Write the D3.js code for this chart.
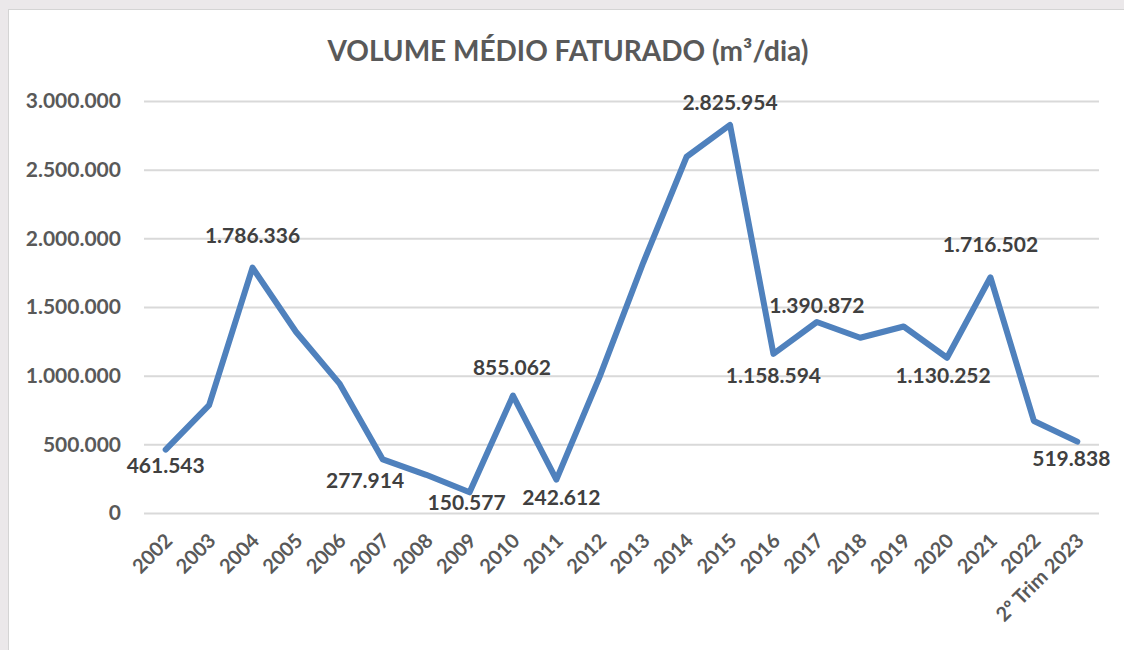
<!DOCTYPE html>
<html lang="pt">
<head>
<meta charset="UTF-8">
<title>Volume médio faturado</title>
<style>
  html, body { margin: 0; padding: 0; background: #ebe8ea; }
  svg { display: block; }
  text { font-family: Lato, "Noto Sans", sans-serif; font-weight: bold; }
</style>
</head>
<body>
<div id="chart"></div>
<script src="https://cdn.jsdelivr.net/npm/d3@7"></script>
<script>
// categories along the x axis
var anos = ["2002", "2003", "2004", "2005", "2006", "2007", "2008", "2009", "2010", "2011",
            "2012", "2013", "2014", "2015", "2016", "2017", "2018", "2019", "2020", "2021",
            "2022", "2º Trim 2023"];
// m³/dia (labelled ones are exact, the rest)
var volumes = [461543, 786000, 1786336, 1320000, 944000, 390000, 277914, 150577, 855062, 242612,
               995000, 1822000, 2594000, 2825954, 1158594, 1390872, 1276000, 1358000, 1130252, 1716502,
               670000, 519838];
var yTicks = [0, 500000, 1000000, 1500000, 2000000, 2500000, 3000000];
var titulo = "VOLUME MÉDIO FATURADO (m³/dia)";

// where excel put each shown data label (index, dx, dy to baseline, anchor)
var rotulos = [
  { i: 0,  dx: 0,   dy: 23,  a: "middle" },
  { i: 2,  dx: 0,   dy: -25, a: "middle" },
  { i: 6,  dx: -22, dy: 13,  a: "end" },
  { i: 7,  dx: -3,  dy: 18,  a: "middle" },
  { i: 8,  dx: -1,  dy: -21, a: "middle" },
  { i: 9,  dx: 5,   dy: 25,  a: "middle" },
  { i: 13, dx: 0,   dy: -15, a: "middle" },
  { i: 14, dx: 0,   dy: 29,  a: "middle" },
  { i: 15, dx: 0,   dy: -9,  a: "middle" },
  { i: 18, dx: -4,  dy: 25,  a: "middle" },
  { i: 19, dx: 0,   dy: -25, a: "middle" },
  { i: 21, dx: -6,  dy: 24,  a: "middle" }
];

var W = 1124, H = 650;
var plot = { left: 144, right: 1099, top: 101, bottom: 513 };

var fmt = function (v) {
  return String(v).replace(/\B(?=(\d{3})+(?!\d))/g, ".");
};

var svg = d3.select("#chart").append("svg")
  .attr("width", W)
  .attr("height", H);

// grey page behind the chart card
svg.append("rect").attr("width", W).attr("height", H).attr("fill", "#ebe8ea");
svg.append("rect")
  .attr("x", 8.5).attr("y", 9.5)
  .attr("width", W).attr("height", H)
  .attr("fill", "#fff")
  .attr("stroke", "#d4d4d4")
  .attr("stroke-width", 1);

var x = d3.scaleBand().domain(anos).range([plot.left, plot.right]).padding(0);
var y = d3.scaleLinear().domain([0, 3000000]).range([plot.bottom, plot.top]);
var cx = function (d) { return x(d) + x.bandwidth() / 2; };

svg.append("text")
  .attr("x", 568).attr("y", 61)
  .attr("text-anchor", "middle")
  .attr("fill", "#595959")
  .style("font-size", "28px")
  .text(titulo);

// gridlines + y labels
var yAxis = d3.axisLeft(y)
  .tickValues(yTicks)
  .tickSize(-(plot.right - plot.left))
  .tickPadding(23)
  .tickFormat(fmt);

var gy = svg.append("g")
  .attr("transform", "translate(" + plot.left + ",0)")
  .call(yAxis);
gy.select(".domain").remove();
gy.selectAll(".tick line").attr("stroke", "#d9d9d9").attr("stroke-width", 2);
gy.selectAll(".tick text")
  .attr("fill", "#595959")
  .style("font-size", "21px")
  .style("font-family", "Lato, sans-serif")
  .style("font-weight", "bold");

// x labels, rotated
var xAxis = d3.axisBottom(x).tickSize(0).tickPadding(0);
var gx = svg.append("g")
  .attr("transform", "translate(0," + plot.bottom + ")")
  .call(xAxis);
gx.select(".domain").remove();
gx.selectAll(".tick text")
  .attr("fill", "#595959")
  .attr("text-anchor", "end")
  .attr("x", 0).attr("y", 0).attr("dy", "0.35em")
  .attr("transform", "translate(3,24) rotate(-45)")
  .style("font-size", "20px")
  .style("font-family", "Lato, sans-serif")
  .style("font-weight", "bold");

// the line
var line = d3.line()
  .x(function (d, i) { return cx(anos[i]); })
  .y(function (d) { return y(d); });

svg.append("path")
  .datum(volumes)
  .attr("d", line)
  .attr("fill", "none")
  .attr("stroke", "#4f81bd")
  .attr("stroke-width", 6)
  .attr("stroke-linejoin", "round")
  .attr("stroke-linecap", "round");

// data labels
svg.append("g").selectAll("text")
  .data(rotulos)
  .enter()
  .append("text")
  .attr("x", function (d) { return cx(anos[d.i]) + d.dx; })
  .attr("y", function (d) { return y(volumes[d.i]) + d.dy; })
  .attr("text-anchor", function (d) { return d.a; })
  .attr("fill", "#404040")
  .style("font-size", "21px")
  .text(function (d) { return fmt(volumes[d.i]); });
</script>
</body>
</html>
